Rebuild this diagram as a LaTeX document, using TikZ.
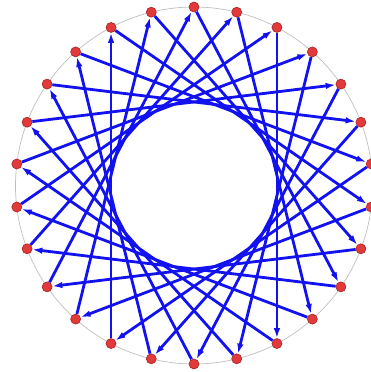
\documentclass[tikz,border=0pt]{standalone}
\usetikzlibrary{arrows.meta}
\definecolor{chordblue}{HTML}{1212F0}
\definecolor{dotred}{HTML}{E23A3A}
\definecolor{dotrim}{HTML}{A52222}
\tikzset{
  dot/.style={circle,draw=dotrim,fill=dotred,line width=0.6pt,
    minimum size=10pt,inner sep=0pt},
  rim/.style={draw=gray!50,line width=0.7pt},
  chord/.style={-{Latex[length=10pt,width=6.5pt]},line width=2.8pt,draw=chordblue}
}
\begin{document}
\begin{tikzpicture}[x=1pt,y=1pt]
  \useasboundingbox (-194,-186.5) rectangle (176,185.5);
  \draw[rim] (0,0) circle (178.5);
  % 26 points on the rim, step 9 clockwise
  \foreach \i in {0,...,25}
    \node[dot] (p\i) at ({90-\i*360/26}:178.5) {};
  \foreach \i [evaluate=\i as \j using {int(mod(\i+9,26))}] in {0,...,25}
    \draw[chord] (p\i) -- (p\j);
\end{tikzpicture}
\end{document}
